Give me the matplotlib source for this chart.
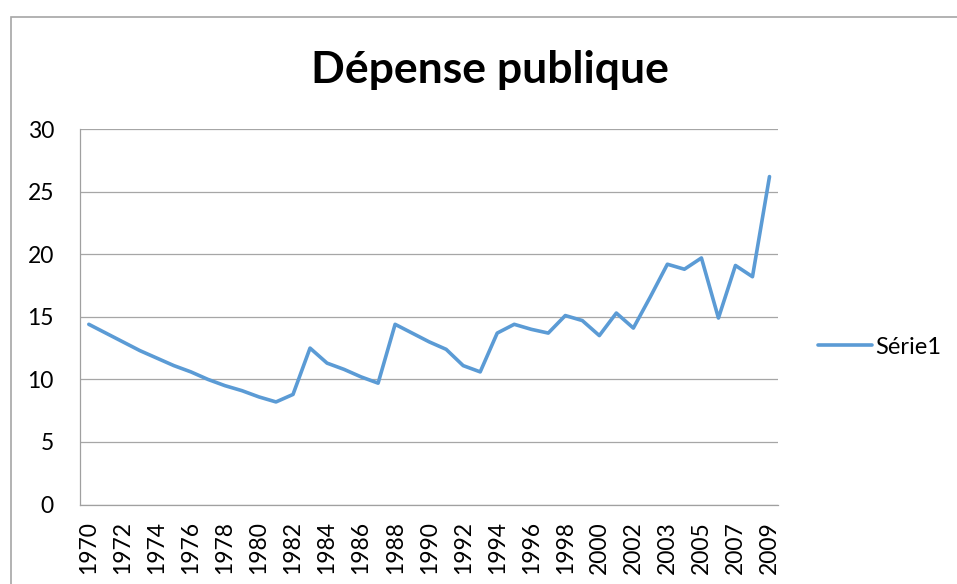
import numpy as np
import matplotlib
matplotlib.use('Agg')
import matplotlib.pyplot as plt
from matplotlib.patches import Rectangle

# Data; 41 categories, labels shown every 2nd one
years = ['1970', '1971', '1972', '1973', '1974', '1975', '1976', '1977', '1978', '1979',
         '1980', '1981', '1982', '1983', '1984', '1985', '1986', '1987', '1988', '1989',
         '1990', '1991', '1992', '1993', '1994', '1995', '1996', '1997', '1998', '1999',
         '2000', '2001', '2002', '2002', '2003', '2004', '2005', '2006', '2007', '2008',
         '2009']
depense = [14.4, 13.7, 13.0, 12.3, 11.7, 11.1, 10.6, 10.0, 9.5, 9.1,
           8.6, 8.2, 8.8, 12.5, 11.3, 10.8, 10.2, 9.7, 14.4, 13.7,
           13.0, 12.4, 11.1, 10.6, 13.7, 14.4, 14.0, 13.7, 15.1, 14.7,
           13.5, 15.3, 14.1, 16.6, 19.2, 18.8, 19.7, 14.9, 19.1, 18.2,
           26.2]
serie_name = 'Série1'
title = 'Dépense publique'
yticks = [0, 5, 10, 15, 20, 25, 30]

plt.rcParams['font.family'] = ['Lato', 'DejaVu Sans']

W, H = 957, 584
fig = plt.figure(figsize=(W / 100, H / 100), dpi=100)

# chart area border (clipped at right/bottom like the original)
fig.patches.append(Rectangle((11 / W, -0.1), 1.2, 1 - 17 / H + 0.1,
                             transform=fig.transFigure, fill=False,
                             edgecolor='#a6a6a6', linewidth=1.2))

ax = fig.add_axes([80.3 / W, 1 - 504.6 / H, (778 - 80.3) / W, (504.6 - 129) / H])
x = np.arange(len(years))
line, = ax.plot(x, depense, color='#5B9BD5', linewidth=2.6,
                solid_joinstyle='round', solid_capstyle='round', label=serie_name)

ax.set_xlim(-0.5, len(years) - 0.5)
ax.set_ylim(0, 30)
ax.set_yticks(yticks)
ax.set_xticks(x[::2])
ax.set_xticklabels(years[::2], rotation=90, fontsize=16.5)
ax.tick_params(axis='y', length=0, pad=19, labelsize=16.5)
ax.tick_params(axis='x', length=0, pad=12)
ax.grid(axis='y', color='#a6a6a6', linewidth=0.9)
ax.set_axisbelow(True)
for s in ['top', 'right']:
    ax.spines[s].set_visible(False)
for s in ['left', 'bottom']:
    ax.spines[s].set_color('#a0a0a0')
    ax.spines[s].set_linewidth(0.9)

fig.text(490 / W, 1 - 83 / H, title, ha='center', va='baseline',
         fontsize=32, fontweight='bold')

fig.legend(handles=[line], loc='center left', bbox_to_anchor=(818 / W, 1 - 347 / H),
           frameon=False, fontsize=17, handlelength=2.3, handletextpad=0.12,
           borderpad=0, borderaxespad=0)

fig.savefig('out.png', dpi=100)
